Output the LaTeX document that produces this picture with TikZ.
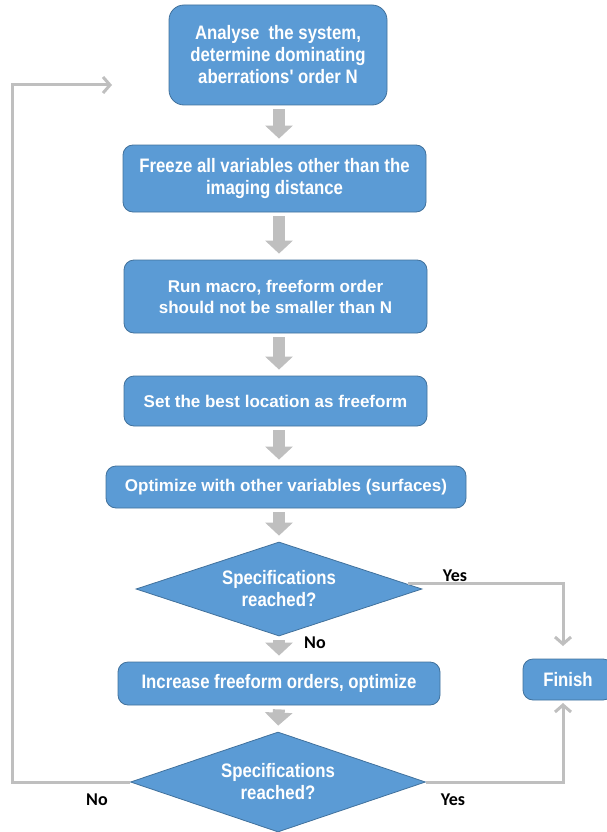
\documentclass[tikz,border=0pt]{standalone}
\usepackage{fontspec}
\setmainfont{Liberation Sans}
\newfontfamily\narrowfont[FakeStretch=0.86]{Liberation Sans}
\newfontfamily\labfont{Carlito}
\usetikzlibrary{shapes.geometric,arrows.meta,calc}
\definecolor{boxblue}{HTML}{5B9BD5}
\definecolor{boxedge}{HTML}{41719C}
\definecolor{conn}{HTML}{BFBFBF}
\begin{document}
\begin{tikzpicture}[x=1pt,y=-1pt,
  box/.style={draw=boxedge, line width=0.8pt, fill=boxblue, rounded corners=10pt,
    text=white, font=\bfseries\fontsize{17}{21}\selectfont, align=center, inner sep=0pt},
  nbox/.style={box, font=\narrowfont\bfseries\fontsize{19.5}{22}\selectfont},
  dia/.style={draw=boxedge, line width=0.8pt, fill=boxblue, diamond, aspect=3, inner sep=0pt,
    text=white, font=\narrowfont\bfseries\fontsize{19.5}{22}\selectfont, align=center},
  bigarrow/.style={draw=conn, line width=12pt, -{Triangle[width=27pt,length=13pt]},
    shorten <=4pt, shorten >=6pt},
  conline/.style={draw=conn, line width=3pt, -{Straight Barb[length=7pt,width=16pt,line width=3pt]}},
  lab/.style={font=\labfont\bfseries\fontsize{18}{20}\selectfont, text=black}
]
\useasboundingbox (0,0) rectangle (607,832);

\node[nbox, rounded corners=15pt, minimum width=218pt, minimum height=100pt] (b1) at (278,55)
  {Analyse\ \ the system,\\ determine dominating\\ aberrations' order N};
\node[nbox, minimum width=303pt, minimum height=67pt] (b2) at (274.5,178.5)
  {Freeze all variables other than the\\ imaging distance};
\node[box, minimum width=303pt, minimum height=73pt] (b3) at (275.5,296.5)
  {Run macro, freeform order\\ should not be smaller than N};
\node[box, minimum width=303pt, minimum height=50pt] (b4) at (275.5,401)
  {Set the best location as freeform};
\node[box, minimum width=360pt, minimum height=42pt] (b5) at (286,487)
  {Optimize with other variables (surfaces)};
\node[dia, minimum width=286pt, minimum height=94pt] (d1) at (279,589)
  {Specifications\\ reached?};
\node[nbox, minimum width=322pt, minimum height=43pt] (b6) at (279,683.5)
  {Increase freeform orders, optimize};
\node[nbox, minimum width=90pt, minimum height=41pt] (fin) at (568,679.5)
  {Finish};
\node[dia, minimum width=295pt, minimum height=100pt] (d2) at (278,782)
  {Specifications\\ reached?};

\coordinate (ax) at (279,0);
\draw[bigarrow] (b1.south -| ax) -- (b2.north -| ax);
\draw[bigarrow] (b2.south -| ax) -- (b3.north -| ax);
\draw[bigarrow] (b3.south -| ax) -- (b4.north -| ax);
\draw[bigarrow] (b4.south -| ax) -- (b5.north -| ax);
\draw[bigarrow] (b5.south -| ax) -- (d1.north);
\draw[bigarrow] (d1.south) -- (b6.north);
\draw[bigarrow] (b6.south) -- (d2.north);

\coordinate (loopend) at (112,85);
\coordinate (y1s) at ($(d1.east)+(-14,-6)$);
\draw[conline] (d2.west) -- (12,782) -- (12,85) -- (loopend);
\draw[conline] (y1s) -- (563,583) -- (563,646);
\draw[conline] (d2.east) -- (563,782) -- (563,703);

\node[lab] (ly1) at (455,576) {Yes};
\node[lab] (ln1) at (315,643) {No};
\node[lab] (ln2) at (97,800) {No};
\node[lab] (ly2) at (453,800) {Yes};
\end{tikzpicture}
\end{document}
